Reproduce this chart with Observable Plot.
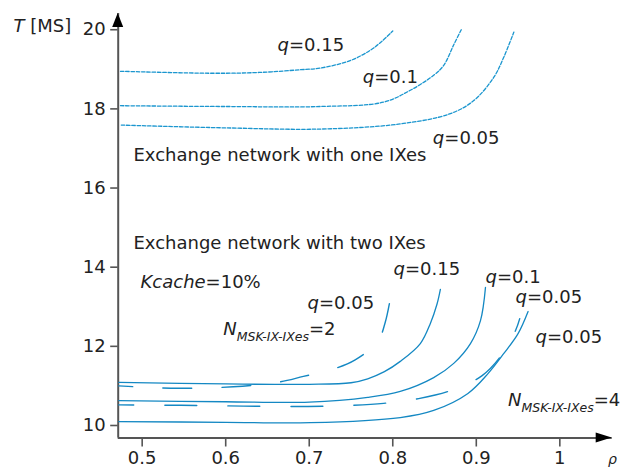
<!DOCTYPE html>
<html>
<head>
<meta charset="utf-8">
<script src="https://cdn.jsdelivr.net/npm/d3@7"></script>
<script src="https://cdn.jsdelivr.net/npm/@observablehq/plot@0.6"></script>
<style>
  html, body { margin: 0; padding: 0; background: #fff; }
</style>
</head>
<body>
<div id="chart"></div>
<script>
// ---- axes ----
const xDomain = [0.4713, 1.0627];
const yDomain = [9.684, 20.41];
const xTicks = [0.5, 0.6, 0.7, 0.8, 0.9, 1];
const yTicks = [10, 12, 14, 16, 18, 20];

// ---- series: [rho, T] ----
// Exchange network with one IXes (dotted)
const oneIX_q015 = [[0.474,18.95],[0.585,18.90],[0.64,18.92],[0.690,18.99],[0.713,19.03],[0.749,19.22],[0.773,19.48],[0.786,19.69],[0.800,19.97]];
const oneIX_q01  = [[0.474,18.08],[0.60,18.06],[0.713,18.06],[0.789,18.17],[0.821,18.47],[0.849,18.85],[0.861,19.10],[0.873,19.62],[0.882,20.0]];
const oneIX_q005 = [[0.475,17.59],[0.60,17.52],[0.713,17.49],[0.809,17.62],[0.869,17.88],[0.897,18.21],[0.921,18.80],[0.933,19.31],[0.945,19.94]];
// Exchange network with two IXes (solid)
const twoIX_q015 = [[0.472,11.09],[0.60,11.05],[0.70,11.04],[0.75,11.08],[0.770,11.18],[0.79,11.36],[0.809,11.62],[0.833,12.07],[0.845,12.58],[0.853,13.07],[0.857,13.44]];
const twoIX_q01  = [[0.472,10.63],[0.60,10.60],[0.70,10.59],[0.770,10.71],[0.809,10.86],[0.849,11.21],[0.873,11.57],[0.893,12.07],[0.905,12.65],[0.911,13.49]];
const twoIX_q005 = [[0.472,10.10],[0.60,10.08],[0.7015,10.07],[0.809,10.20],[0.849,10.38],[0.890,10.81],[0.914,11.31],[0.933,11.82],[0.950,12.32],[0.962,12.88]];
// Two IXes, q=0.05 (long dashes)
const twoIX_q005_N2 = [[0.472,11.00],[0.542,10.94],[0.609,10.98],[0.662,11.09],[0.693,11.24],[0.728,11.42],[0.755,11.66],[0.782,12.12],[0.791,12.61],[0.797,13.20]];
const twoIX_q005_N4 = [[0.472,10.52],[0.546,10.51],[0.621,10.49],[0.693,10.48],[0.752,10.51],[0.789,10.56],[0.831,10.68],[0.869,10.88],[0.907,11.26],[0.931,11.80],[0.947,12.40],[0.952,12.70]];

// ---- annotations (markup: *italic*, _[subscript]) ----
const labelText = [
  "*q*=0.15", "*q*=0.1", "*q*=0.05",
  "Exchange network with one IXes", "Exchange network with two IXes",
  "*Kcache*=10%", "*q*=0.05", "*N*_[MSK-IX-IXes]=2",
  "*q*=0.15", "*q*=0.1", "*q*=0.05", "*q*=0.05", "*N*_[MSK-IX-IXes]=4"
];
const labelRho = [0.662, 0.764, 0.848, 0.4896, 0.4896, 0.498, 0.698, 0.597, 0.801, 0.911, 0.947, 0.971, 0.938];
const labelT   = [19.60, 18.79, 17.25, 16.82, 14.60, 13.61, 13.08, 12.44, 13.96, 13.74, 13.24, 12.22, 10.63];
const axisTitleY = {text: "*T* [MS]", rho: 0.3459, T: 20.08};
const axisTitleX = {text: "*ρ*", rho: 1.063, T: 9.13};

const toRows = (arr) => arr.map(([rho, T]) => ({rho, T}));
const labels = labelText.map((text, i) => ({text, rho: labelRho[i], T: labelT[i]}));

const blueDot = "#1b96cf";
const blue = "#1488c3";

const chart = Plot.plot({
  width: 623,
  height: 467,
  marginLeft: 117.7,
  marginRight: 11.3,
  marginTop: 13,
  marginBottom: 29.5,
  style: {fontFamily: "DejaVu Sans", fontSize: "18px", color: "#222", background: "#fff"},
  x: {domain: xDomain},
  y: {domain: yDomain},
  marks: [
    Plot.axisY({ticks: yTicks, tickSize: 7.5, tickPadding: 5, fontSize: 18, stroke: "#555", strokeWidth: 1.6, label: null, tickFormat: d => String(d)}),
    Plot.axisX({ticks: xTicks, tickSize: 9, tickPadding: 4.5, fontSize: 18, stroke: "#555", strokeWidth: 1.6, label: null, tickFormat: d => String(d)}),
    Plot.ruleX([xDomain[0]], {stroke: "#555", strokeWidth: 2}),
    Plot.ruleY([yDomain[0]], {stroke: "#555", strokeWidth: 2}),
    // one IXes — dotted
    ...[oneIX_q015, oneIX_q01, oneIX_q005].map(s =>
      Plot.line(toRows(s), {x: "rho", y: "T", curve: "catmull-rom", stroke: blueDot, strokeWidth: 1.3, strokeDasharray: "3.5,1.8"})),
    // two IXes — solid
    ...[twoIX_q015, twoIX_q01, twoIX_q005].map(s =>
      Plot.line(toRows(s), {x: "rho", y: "T", curve: "catmull-rom", stroke: blue, strokeWidth: 1.3})),
    // long dashes
    Plot.line(toRows(twoIX_q005_N2), {x: "rho", y: "T", curve: "catmull-rom", stroke: blue, strokeWidth: 1.4, strokeDasharray: "29,30", strokeDashoffset: 15}),
    Plot.line(toRows(twoIX_q005_N4), {x: "rho", y: "T", curve: "catmull-rom", stroke: blue, strokeWidth: 1.4, strokeDasharray: "32,31", strokeDashoffset: 17}),
    // texts
    Plot.text(labels, {x: "rho", y: "T", text: "text", textAnchor: "start", fontSize: 18, fill: "#222"}),
    Plot.text([axisTitleY], {x: "rho", y: "T", text: "text", textAnchor: "start", fontSize: 18, fill: "#222"}),
    Plot.text([axisTitleX], {x: "rho", y: "T", text: "text", textAnchor: "middle", fontSize: 14, fill: "#222"})
  ]
});

// rich text: *italic*, _[subscript]
const NS = "http://www.w3.org/2000/svg";
chart.querySelectorAll("text").forEach(el => {
  const s = el.textContent;
  if (!/[*_]/.test(s)) return;
  el.textContent = "";
  const re = /\*([^*]+)\*|_\[([^\]]+)\]|([^*_]+)/g;
  let m, sub = false;
  while ((m = re.exec(s))) {
    const t = document.createElementNS(NS, "tspan");
    if (m[1] !== undefined) {
      t.setAttribute("font-style", "italic");
      t.textContent = m[1];
    } else if (m[2] !== undefined) {
      t.setAttribute("font-style", "italic");
      t.setAttribute("font-size", "12.5");
      t.setAttribute("dy", "6");
      t.textContent = m[2];
      sub = true;
    } else {
      t.textContent = m[3];
      if (sub) { t.setAttribute("dy", "-6"); sub = false; }
    }
    el.appendChild(t);
  }
});

// arrow heads at axis ends, positioned through the plot scales
const sx = chart.scale("x"), sy = chart.scale("y");
const x0 = sx.apply(xDomain[0]), x1 = sx.apply(xDomain[1]);
const y0 = sy.apply(yDomain[0]), y1 = sy.apply(yDomain[1]);
const svg = d3.select(chart);
svg.append("polygon")
  .attr("points", [[x0, y1], [x0 - 5.5, y1 + 14], [x0 + 5.5, y1 + 14]].map(p => p.join(",")).join(" "))
  .attr("fill", "#000");
svg.append("polygon")
  .attr("points", [[x1, y0], [x1 - 16, y0 - 5], [x1 - 16, y0 + 5]].map(p => p.join(",")).join(" "))
  .attr("fill", "#000");

document.getElementById("chart").appendChild(chart);
</script>
</body>
</html>
